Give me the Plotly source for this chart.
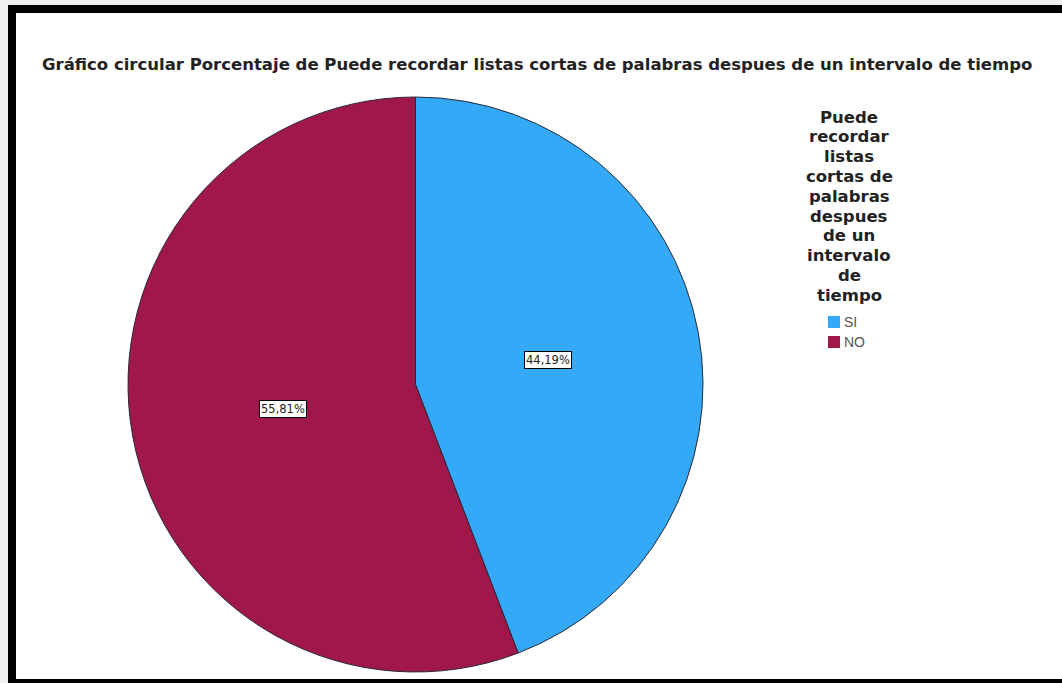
import math
import plotly.graph_objects as go

# Data
categories = ["SI", "NO"]
percentages = [44.19, 55.81]
slice_colors = ["#33A9F8", "#A0174A"]

title_text = ("Gráfico circular Porcentaje de Puede recordar listas cortas de "
              "palabras despues de un intervalo de tiempo")
legend_title_lines = ["Puede", "recordar", "listas", "cortas de", "palabras",
                      "despues", "de un", "intervalo", "de", "tiempo"]

W, H = 1062, 683
FONT = "DejaVu Sans, Verdana, sans-serif"


def px(x):
    return x / W


def py(y):
    return 1 - y / H


# Pie geometry (pixels)
cx, cy, r = 415.5, 384.5, 287.5

fig = go.Figure()
fig.add_trace(go.Pie(
    labels=categories,
    values=percentages,
    sort=False,
    direction="clockwise",
    rotation=0,
    marker=dict(colors=slice_colors, line=dict(color="#2a2a3a", width=1)),
    textinfo="none",
    hoverinfo="label+percent",
    domain=dict(x=[px(cx - r), px(cx + r)], y=[py(cy + r), py(cy - r)]),
    showlegend=False,
))

# Percentage labels placed along each slice's mid-angle
total = sum(percentages)
start = 0.0
annotations = []
for cat, val in zip(categories, percentages):
    frac = val / total
    mid = (start + frac / 2) * 2 * math.pi
    start += frac
    rf = 0.47
    lx = cx + rf * r * math.sin(mid)
    ly = cy - rf * r * math.cos(mid)
    annotations.append(dict(
        x=px(lx), y=py(ly), xref="paper", yref="paper",
        text=f"{val:.2f}%".replace(".", ","),
        showarrow=False,
        font=dict(family=FONT, size=11.5, color="#222222"),
        bgcolor="white", bordercolor="black", borderwidth=1, borderpad=1,
        xanchor="center", yanchor="middle",
    ))

# Chart title
annotations.append(dict(
    x=px(537), y=py(64), xref="paper", yref="paper",
    text=f"<b>{title_text}</b>", showarrow=False,
    font=dict(family=FONT, size=16.5, color="#222222"),
    xanchor="center", yanchor="middle",
))

# Legend heading, one line per annotation for tight line spacing
lg_x, lg_y0, lg_step = 849, 117, 19.8
for i, line in enumerate(legend_title_lines):
    annotations.append(dict(
        x=px(lg_x), y=py(lg_y0 + i * lg_step), xref="paper", yref="paper",
        text=f"<b>{line}</b>", showarrow=False,
        font=dict(family=FONT, size=16.5, color="#222222"),
        xanchor="center", yanchor="middle",
    ))

# Frame around the chart area
shapes = [
    dict(type="rect", xref="paper", yref="paper", x0=px(8), x1=1, y0=0, y1=py(5),
         fillcolor="black", line=dict(width=0), layer="below"),
    dict(type="rect", xref="paper", yref="paper", x0=px(16), x1=1, y0=py(679), y1=py(13),
         fillcolor="white", line=dict(width=0), layer="below"),
]

# Legend entries: colour swatch plus category name
sw_x, sw_y0, sw_step, sw = 828, 322, 20, 12
for i, (cat, col) in enumerate(zip(categories, slice_colors)):
    yc = sw_y0 + i * sw_step
    shapes.append(dict(
        type="rect", xref="paper", yref="paper",
        x0=px(sw_x), x1=px(sw_x + sw), y0=py(yc + sw / 2), y1=py(yc - sw / 2),
        fillcolor=col, line=dict(width=0),
    ))
    annotations.append(dict(
        x=px(sw_x + sw + 2), y=py(yc), xref="paper", yref="paper",
        text=cat, showarrow=False,
        font=dict(family="Liberation Sans, Arial", size=14, color="#555555"),
        xanchor="left", yanchor="middle",
    ))

fig.update_layout(
    width=W, height=H,
    margin=dict(l=0, r=0, t=0, b=0),
    paper_bgcolor="#f0f0f0",
    plot_bgcolor="white",
    annotations=annotations,
    shapes=shapes,
    showlegend=False,
)

fig.write_html("out.html")
